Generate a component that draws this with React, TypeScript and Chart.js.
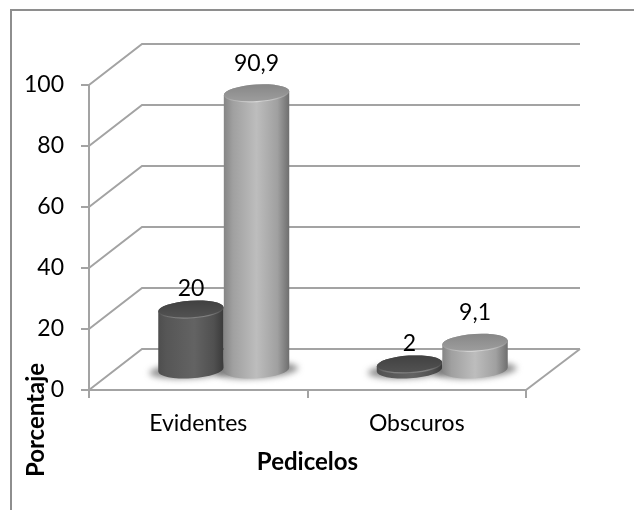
import React, { useEffect, useRef } from "react";
import { Chart, registerables, BarController, BarElement } from "chart.js";

const categories = ["Evidentes", "Obscuros"];
const seriesDark = [20, 2];
const seriesLight = [90.9, 9.1];
const yTicks = { min: 0, max: 100, step: 20 };
const axisX = "Pedicelos";
const axisY = "Porcentaje";

const LINE = "#a3a3a3";
const INK = "#000000";
const FONT = "Lato, sans-serif";

// Offset of the back wall from the front of the plot, and how far the cylinders sit into it.
const DEPTH = { x: 53, y: -41 };
const BAR_SHIFT = { x: 25.5, y: -19.5 };
const TILT = (-3.5 * Math.PI) / 180;
const CAP_MINOR = 8.8;

// Shading for each base colour: side stops, then cap top / cap low / rim highlight.
const SHADES: Record<string, { side: [number, string][]; cap: [string, string]; rim: string }> = {
  "#5a5a5a": {
    side: [[0, "#4e4e4e"], [0.12, "#565656"], [0.55, "#636363"], [0.85, "#505050"], [1, "#3a3a3a"]],
    cap: ["#3f3f3f", "#555555"],
    rim: "rgba(130,130,130,0.8)",
  },
  "#aaaaaa": {
    side: [[0, "#858585"], [0.14, "#a0a0a0"], [0.5, "#bdbdbd"], [0.82, "#a0a0a0"], [1, "#6e6e6e"]],
    cap: ["#858585", "#a0a0a0"],
    rim: "rgba(220,220,220,0.9)",
  },
};

class CylinderElement extends BarElement {
  static id = "cylinder";

  draw(ctx: CanvasRenderingContext2D) {
    const { x, y, base, width } = (this as any).getProps(["x", "y", "base", "width"]);
    const shade = SHADES[(this as any).options.backgroundColor];
    const cx = x + BAR_SHIFT.x;
    const top = y + BAR_SHIFT.y;
    const bottom = base + BAR_SHIFT.y;
    const a = width / 2;
    const dx = a * Math.cos(TILT);
    const dy = a * Math.sin(TILT);

    ctx.save();
    const side = ctx.createLinearGradient(cx - a, 0, cx + a, 0);
    shade.side.forEach(([at, c]) => side.addColorStop(at, c));
    ctx.fillStyle = side;
    ctx.beginPath();
    ctx.ellipse(cx, bottom, a, CAP_MINOR, TILT, 0, Math.PI);
    ctx.lineTo(cx - dx, top - dy);
    ctx.ellipse(cx, top, a, CAP_MINOR, TILT, Math.PI, 2 * Math.PI);
    ctx.lineTo(cx + dx, bottom + dy);
    ctx.closePath();
    ctx.fill();

    const cap = ctx.createLinearGradient(0, top - CAP_MINOR - 2, 0, top + CAP_MINOR + 2);
    cap.addColorStop(0, shade.cap[0]);
    cap.addColorStop(1, shade.cap[1]);
    ctx.fillStyle = cap;
    ctx.beginPath();
    ctx.ellipse(cx, top, a, CAP_MINOR, TILT, 0, 2 * Math.PI);
    ctx.fill();

    const rim = ctx.createLinearGradient(cx - a, 0, cx + a, 0);
    rim.addColorStop(0, "rgba(255,255,255,0)");
    rim.addColorStop(0.5, shade.rim);
    rim.addColorStop(1, "rgba(255,255,255,0)");
    ctx.strokeStyle = rim;
    ctx.lineWidth = 1.2;
    ctx.beginPath();
    ctx.ellipse(cx, top, a - 0.5, CAP_MINOR - 0.5, TILT, 0, Math.PI);
    ctx.stroke();
    ctx.restore();
  }
}

class CylinderController extends BarController {
  static id = "cylinder3d";
  static defaults = { dataElementType: "cylinder" };
}

Chart.register(...registerables, CylinderElement, CylinderController);

const formatValue = (v: number) => String(v).replace(".", ",");

const wallsAndShadows = {
  id: "wallsAndShadows",
  beforeDraw(chart: any) {
    // Chart frame: only the top and left edges fall inside the canvas.
    const { ctx } = chart;
    ctx.save();
    ctx.strokeStyle = "#8e8e8e";
    ctx.lineWidth = 2;
    ctx.beginPath();
    ctx.moveTo(11, 510);
    ctx.lineTo(11, 10);
    ctx.lineTo(634, 10);
    ctx.stroke();
    ctx.restore();
  },
  beforeDatasetsDraw(chart: any) {
    const { ctx, scales, chartArea } = chart;
    const { left, right, bottom } = chartArea;

    ctx.save();
    ctx.strokeStyle = LINE;
    ctx.lineWidth = 2;
    for (let v = yTicks.min; v <= yTicks.max; v += yTicks.step) {
      const py = scales.y.getPixelForValue(v);
      ctx.beginPath();
      ctx.moveTo(left, py);
      ctx.lineTo(left + DEPTH.x, py + DEPTH.y);
      ctx.lineTo(right + DEPTH.x + 1, py + DEPTH.y);
      ctx.stroke();
    }
    ctx.beginPath();
    ctx.moveTo(right, bottom);
    ctx.lineTo(right + DEPTH.x + 1, bottom + DEPTH.y);
    ctx.stroke();

    // Soft contact shadows on the floor, under every cylinder.
    ctx.filter = "blur(3px)";
    ctx.fillStyle = "rgba(95,95,95,0.7)";
    chart.getSortedVisibleDatasetMetas().forEach((meta: any) => {
      meta.data.forEach((bar: any) => {
        ctx.beginPath();
        ctx.ellipse(bar.x + BAR_SHIFT.x, bar.base + BAR_SHIFT.y + 1, bar.width / 2 + 9, CAP_MINOR - 1, TILT, 0, 2 * Math.PI);
        ctx.fill();
      });
    });
    ctx.filter = "none";
    ctx.restore();

    // Later series overlap earlier ones within a cluster.
    chart.getSortedVisibleDatasetMetas().forEach((meta: any) => meta.controller.draw());
    return false;
  },
  afterDraw(chart: any) {
    const { ctx, scales } = chart;
    ctx.save();
    ctx.fillStyle = INK;
    ctx.textAlign = "center";
    ctx.textBaseline = "middle";
    ctx.font = `23px ${FONT}`;
    chart.getSortedVisibleDatasetMetas().forEach((meta: any) => {
      const lift = chart.data.datasets[meta.index].labelLift;
      meta.data.forEach((bar: any, i: number) => {
        const value = chart.data.datasets[meta.index].data[i];
        ctx.fillText(formatValue(value), bar.x + BAR_SHIFT.x, bar.y + BAR_SHIFT.y - lift);
      });
    });

    ctx.font = `bold 24px ${FONT}`;
    ctx.fillText(axisX, (scales.x.left + scales.x.right) / 2, 462);
    ctx.translate(36, 420);
    ctx.rotate(-Math.PI / 2);
    ctx.fillText(axisY, 0, 0);
    ctx.restore();
  },
};

export default function App() {
  const ref = useRef<HTMLCanvasElement>(null);

  useEffect(() => {
    document.body.style.margin = "0";
    const chart = new Chart(ref.current!, {
      type: "cylinder3d" as any,
      data: {
        labels: categories,
        datasets: [
          { data: seriesDark, backgroundColor: "#5a5a5a", labelLift: 21 } as any,
          { data: seriesLight, backgroundColor: "#aaaaaa", labelLift: 30 } as any,
        ],
      },
      options: {
        responsive: false,
        animation: false,
        events: [],
        categoryPercentage: 0.6,
        barPercentage: 1,
        layout: { padding: { top: 85, right: 108, left: 0, bottom: 0 } },
        plugins: { legend: { display: false }, tooltip: { enabled: false } },
        scales: {
          x: {
            afterFit: (s: any) => {
              s.height = 120;
            },
            grid: { offset: true, drawOnChartArea: false, color: LINE, lineWidth: 2, tickLength: 8 },
            border: { color: LINE, width: 2 },
            ticks: { color: INK, padding: 12, maxRotation: 0, font: { family: FONT, size: 23 } },
          },
          y: {
            min: yTicks.min,
            max: yTicks.max,
            afterFit: (s: any) => {
              s.width = 89;
            },
            grid: { drawOnChartArea: false, color: LINE, lineWidth: 2, tickLength: 8 },
            border: { color: LINE, width: 2 },
            ticks: { stepSize: yTicks.step, color: INK, padding: 17, font: { family: FONT, size: 23 } },
          },
        },
      } as any,
      plugins: [wallsAndShadows],
    });
    return () => chart.destroy();
  }, []);

  return (
    <div style={{ width: 634, height: 510, background: "#ffffff" }}>
      <canvas ref={ref} width={634} height={510} style={{ display: "block" }} />
    </div>
  );
}
